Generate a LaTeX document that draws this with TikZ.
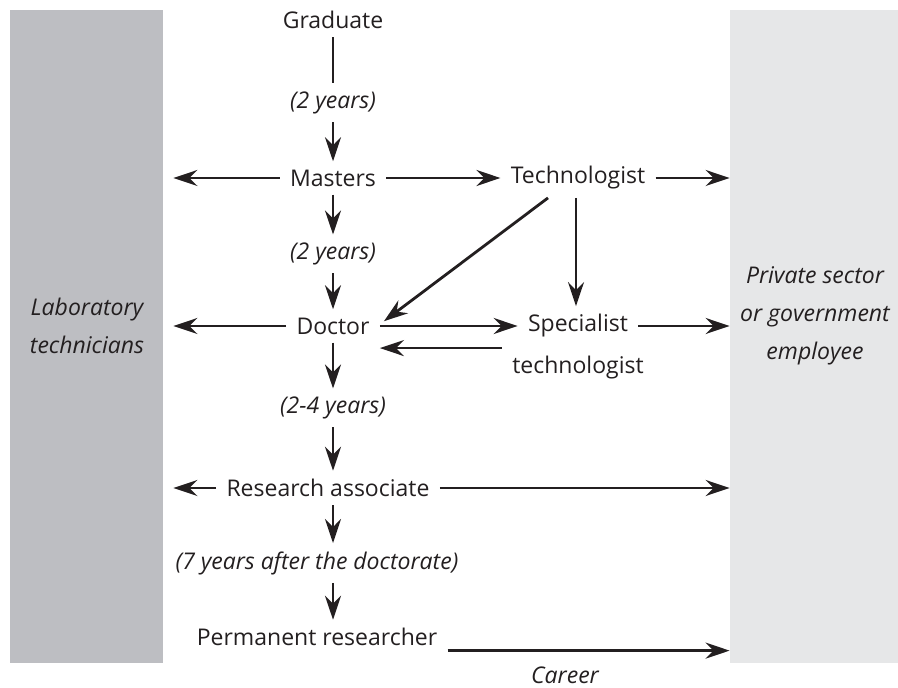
\documentclass[tikz,border=0pt]{standalone}
\usepackage{fontspec}
\setmainfont{Open Sans}
\usetikzlibrary{arrows.meta,positioning}
\definecolor{barleft}{RGB}{189,190,194}
\definecolor{barright}{RGB}{230,231,232}
\definecolor{ink}{RGB}{35,31,32}

\tikzset{
  stage/.style={inner xsep=5pt, inner ysep=4pt, text=ink, font=\fontsize{11.5}{13}\selectfont},
  span/.style={stage, font=\fontsize{11.5}{13}\selectfont\itshape},
  link/.style={-{Stealth[length=12pt,width=8pt,inset=4pt]}, line width=1.4pt, draw=ink},
  plain/.style={line width=1.4pt, draw=ink},
  sidebar/.style={fill=#1, draw=none, minimum height=326.5pt, inner sep=0pt}
}

\begin{document}
\begin{tikzpicture}[x=0.5pt,y=-0.5pt]
\useasboundingbox (0,0) rectangle (898,688);
% side columns
\node[sidebar=barleft, minimum width=76.5pt] (labtech) at (86.5,336.5) {};
\node[sidebar=barright, minimum width=84pt] (private) at (814,336.5) {};
\node[span, align=center, font=\fontsize{11.5}{19}\selectfont\itshape] (labtxt) at (87,326) {Laboratory\\technicians};
\node[span, align=center, font=\fontsize{11.5}{19}\selectfont\itshape] (privtxt) at (815,316) {Private sector\\or government\\employee};

% main chain
\coordinate (axis) at (333,0);
\node[stage] (grad) at (333,20) {Graduate};
\node[span] (yrsa) at (333,103) {(2 years)};
\node[stage] (masters) at (333,178) {Masters};
\node[span] (yrsb) at (333,254) {(2 years)};
\node[stage] (doctor) at (333,326) {Doctor};
\node[span] (yrsc) at (333,408) {(2-4 years)};
\node[stage] (research) at (328,488) {Research associate};
\node[span] (yrsd) at (317,563) {(7 years after the doctorate)};
\node[stage] (perm) at (317,637) {Permanent researcher};

% technologists
\node[stage] (techno) at (578,178) {Technologist};
\node[stage] (special) at (578,326) {Specialist};
\node[stage] (specialb) at (578,368) {technologist};
\node[span, inner sep=0pt] (career) at (565,675) {Career};

% vertical steps
\draw[plain] (grad) -- (yrsa);
\draw[link] (yrsa) -- (masters);
\draw[link] (masters) -- (yrsb);
\draw[link] (yrsb) -- (doctor);
\draw[link] (doctor) -- (yrsc);
\draw[link] (yrsc.south -| axis) -- (research.north -| axis);
\draw[link] (research.south -| axis) -- (yrsd.north -| axis);
\draw[link] (yrsd.south -| axis) -- (perm.north -| axis);

% sideways moves
\draw[link] (masters) -- (techno);
\draw[link] (doctor) -- (special);
\draw[link] (specialb.north west) -- (specialb.north west -| doctor.east);
\draw[link] ([xshift=-15pt]techno.south) -- ([xshift=2pt,yshift=-6pt]doctor.north east);
\draw[link] ([xshift=-1pt]techno.south) -- ([xshift=-1pt]special.north);

\draw[link, shorten >=5pt] (masters) -- (masters -| labtech.east);
\draw[link, shorten >=5pt] (doctor) -- (doctor -| labtech.east);
\draw[link, shorten >=5pt] (research) -- (research -| labtech.east);
\draw[link] (techno) -- (techno -| private.west);
\draw[link] (special) -- (special -| private.west);
\draw[link] (research) -- (research -| private.west);
\draw[link] ([yshift=-2.5pt]perm.base east) -- ([yshift=-2.5pt]perm.base east -| private.west);
\end{tikzpicture}
\end{document}
